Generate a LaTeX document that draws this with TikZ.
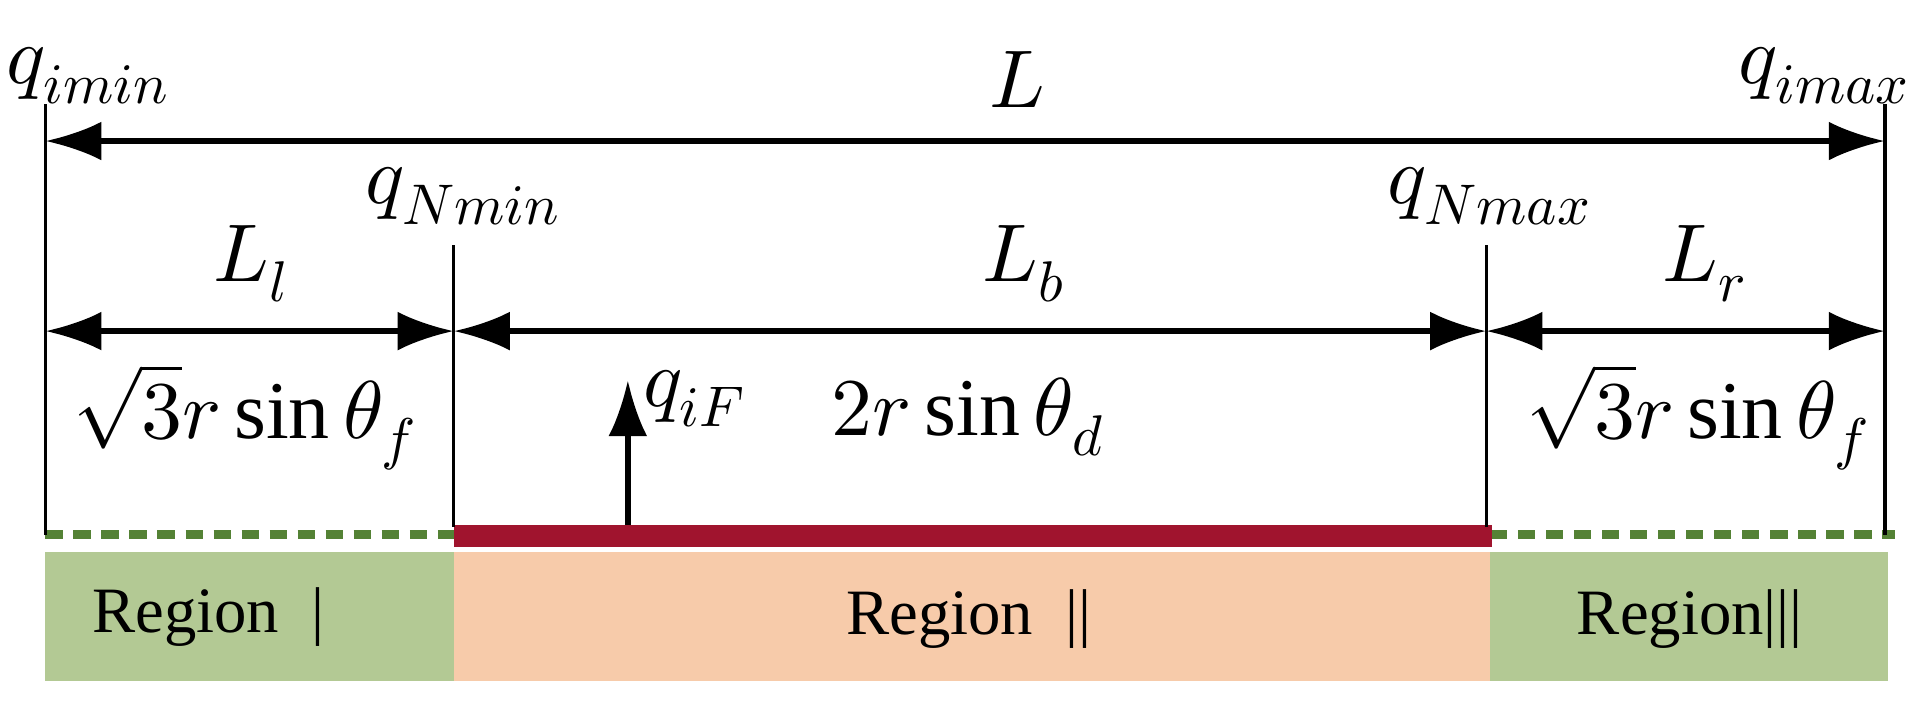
\documentclass[tikz,border=0pt]{standalone}
\usepackage{fontspec}
\setmainfont{Liberation Serif}
\usepackage{unicode-math}
\setmathfont{Latin Modern Math}
\usetikzlibrary{arrows.meta}
\begin{document}
\begin{tikzpicture}[x=0.01cm,y=-0.01cm,
  dim/.style={line width=1.3pt,{Latex[length=13pt,width=9pt]}-{Latex[length=13pt,width=9pt]}},
  vl/.style={line width=0.8pt},
  lab/.style={font=\fontsize{19}{21}\selectfont},
  reg/.style={font=\fontsize{15}{18}\selectfont}]
\useasboundingbox (0,0) rectangle (1560,582);
\fill[fill={rgb,255:red,179;green,201;blue,148}] (37,450) rectangle (370,555);
\fill[fill={rgb,255:red,179;green,201;blue,148}] (1215,450) rectangle (1540,555);
\fill[fill={rgb,255:red,247;green,203;blue,170}] (370,450) rectangle (1215,555);
\draw[line width=2.2pt,dash pattern=on 4pt off 2.5pt,color={rgb,255:red,84;green,130;blue,53}] (37,436) -- (370,436) (1215,436) -- (1545,436);
\fill[color={rgb,255:red,160;green,20;blue,46}] (370,428) rectangle (1217,446);
\coordinate (a0) at (37,85); \coordinate (a1) at (37,436);
\coordinate (b0) at (1537,85); \coordinate (b1) at (1537,436);
\coordinate (c0) at (370,200); \coordinate (c1) at (370,430);
\coordinate (d0) at (1212,200); \coordinate (d1) at (1212,430);
\draw[vl] (a0)--(a1) (b0)--(b1) (c0)--(c1) (d0)--(d1);
\coordinate (L1) at (37,115); \coordinate (L2) at (1537,115);
\draw[dim] (L1)--(L2);
\coordinate (m1) at (37,270); \coordinate (m2) at (370,270);
\coordinate (m3) at (1212,270); \coordinate (m4) at (1537,270);
\draw[dim] (m1)--(m2); \draw[dim] (m2)--(m3); \draw[dim] (m3)--(m4);
\coordinate (f0) at (512,428); \coordinate (f1) at (512,310);
\draw[line width=1.3pt,-{Latex[length=13pt,width=9pt]}] (f0)--(f1);
\node[lab] (qimin) at (72,62) {$q_{imin}$};
\node[lab] (qimax) at (1488,62) {$q_{imax}$};
\node[lab] (L) at (830,65) {$L$};
\node[lab] (qNmin) at (378,160) {$q_{Nmin}$};
\node[lab] (qNmax) at (1215,160) {$q_{Nmax}$};
\node[lab] (Ll) at (205,215) {$L_l$};
\node[lab] (Lb) at (835,215) {$L_b$};
\node[lab] (Lr) at (1390,215) {$L_r$};
\node[lab] (s1) at (200,340) {$\sqrt{3}r\sin\theta_f$};
\node[lab] (s2) at (790,340) {$2r\sin\theta_d$};
\node[lab] (s3) at (1385,340) {$\sqrt{3}r\sin\theta_f$};
\node[lab,anchor=west,inner sep=0pt] (qiF) at (524,325) {$q_{iF}$};
\node[reg] (r1) at (170,503) {Region\ \ |};
\node[reg] (r2) at (790,505) {Region\ \ ||};
\node[reg] (r3) at (1378,505) {Region|||};
\end{tikzpicture}
\end{document}
